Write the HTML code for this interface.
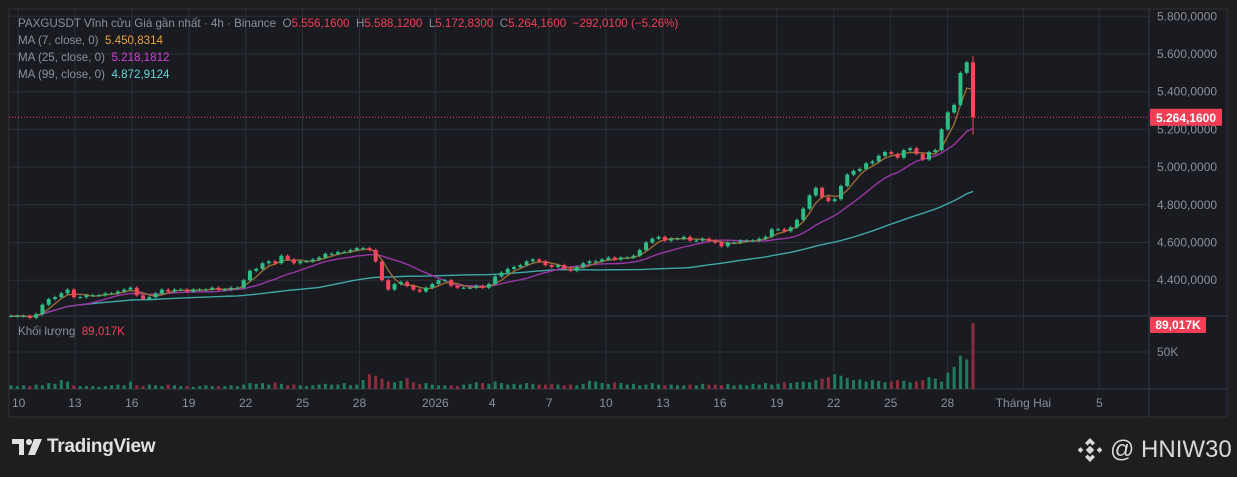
<!DOCTYPE html>
<html><head><meta charset="utf-8">
<style>
html,body{margin:0;padding:0;background:#1e1e1e;width:1237px;height:477px;overflow:hidden;font-family:"Liberation Sans",sans-serif}
#wrap{position:absolute;left:0;top:0;width:1237px;height:477px}
.hdr{position:absolute;left:18px;font-size:11.6px;color:#8b8f9a;white-space:nowrap}
</style></head><body>
<div id="wrap">
<svg id="chart" width="1237" height="477" style="position:absolute;left:0;top:0"></svg>
<div class="hdr" style="top:17px">PAXGUSDT Vĩnh cửu Giá gần nhất · 4h · Binance&nbsp; O<span style="color:#f23f55">5.556,1600</span>&nbsp; H<span style="color:#f23f55">5.588,1200</span>&nbsp; L<span style="color:#f23f55">5.172,8300</span>&nbsp; C<span style="color:#f23f55">5.264,1600</span>&nbsp; <span style="color:#f23f55">−292,0100 (−5.26%)</span></div>
<div class="hdr" style="top:34px">MA (7, close, 0)&nbsp; <span style="color:#e8a33a">5.450,8314</span></div>
<div class="hdr" style="top:51px">MA (25, close, 0)&nbsp; <span style="color:#d43fd8">5.218,1812</span></div>
<div class="hdr" style="top:68px">MA (99, close, 0)&nbsp; <span style="color:#5fd6da">4.872,9124</span></div>
<div class="hdr" style="top:325px">Khối lượng&nbsp; <span style="color:#f23f55">89,017K</span></div>
<div style="position:absolute;left:12px;top:437px;height:20px;display:flex;align-items:center">
<svg width="30" height="18" viewBox="0 0 30 18"><path d="M0 1h12v16H7V6H0z" fill="#e0e0e0"/><circle cx="17" cy="4" r="3" fill="#e0e0e0"/><path d="M22 1h8l-7 16h-7z" fill="#e0e0e0"/></svg>
<span style="margin-left:5px;color:#e0e0e0;font-size:19px;font-weight:bold;letter-spacing:-0.3px">TradingView</span></div>
<div style="position:absolute;left:1076px;top:436px;display:flex;align-items:center">
<svg width="28" height="28" viewBox="0 0 28 28"><g fill="#d8d8d8"><path d="M14 2l5 5-2.5 2.5L14 7l-2.5 2.5L9 7z"/><path d="M14 26l5-5-2.5-2.5L14 21l-2.5-2.5L9 21z"/><rect x="11" y="11" width="6" height="6" transform="rotate(45 14 14)"/><rect x="2.5" y="12" width="4" height="4" transform="rotate(45 4.5 14)"/><rect x="21.5" y="12" width="4" height="4" transform="rotate(45 23.5 14)"/></g></svg>
<span style="margin-left:6px;color:#d8d8d8;font-size:24px">@ HNIW30</span></div>
</div>
<script>
const closes = [4.21,
4.21,4.21,4.20, 4.22,4.27,4.30, 4.31,4.33,4.35, 4.31,4.31,4.32, 4.32,4.32,4.33,
4.33,4.34,4.35, 4.36,4.32,4.30, 4.31,4.33,4.35, 4.34,4.35,4.35, 4.34,4.35,4.35,
4.35,4.36,4.35, 4.35,4.36,4.36, 4.40,4.45,4.46, 4.49,4.50,4.49, 4.53,4.51,4.49,
4.50,4.50,4.51, 4.52,4.54,4.54, 4.55,4.55,4.56, 4.57,4.57,4.56, 4.50,4.40,4.35,
4.38,4.39,4.37, 4.35,4.34,4.36, 4.38,4.40,4.40, 4.37,4.36,4.36, 4.36,4.37,4.36,
4.38,4.42,4.44, 4.46,4.47,4.48, 4.50,4.51,4.50, 4.48,4.47,4.48, 4.46,4.45,4.47,
4.49,4.50,4.50, 4.51,4.52,4.51, 4.52,4.52,4.53, 4.56,4.60,4.62, 4.63,4.61,4.62,
4.62,4.63,4.61, 4.61,4.62,4.61, 4.60,4.58,4.60, 4.60,4.61,4.61, 4.61,4.62,4.63,
4.67,4.67,4.66, 4.68,4.72,4.78, 4.85,4.89,4.84, 4.82,4.83,4.90, 4.96,4.98,4.99,
5.02,5.03,5.06, 5.08,5.07,5.05, 5.09,5.10,5.07, 5.04,5.08,5.09, 5.20,5.29,5.33,
5.50,5.556,5.264];
const volumes = [5,
4,5,4, 6,5,8, 7,12,10, 5,4,4, 4,3,4, 5,6,5, 10,5,4, 6,5,4, 6,5,4, 4,3,4,
5,4,4, 4,5,4, 6,8,7, 8,6,9, 7,5,6, 5,4,5, 6,7,6, 6,8,5, 6,12,20, 18,14,10,
9,11,15, 9,7,8, 6,5,5, 5,4,6, 7,9,8, 7,10,8, 6,7,6, 8,7,6, 6,7,6, 5,6,5,
7,11,10, 8,7,9, 8,6,7, 5,6,8, 6,5,6, 5,5,6, 5,7,6, 6,5,7, 5,6,5, 7,6,8,
6,7,9, 8,9,10, 9,12,14, 16,20,18, 15,12,13, 10,12,11, 9,10,12, 11,9,10,
12,16,14, 10,22,30, 45,40,89.017];
const lastHigh = 5.5881, lastLow = 5.1728;
const priceTicks = [5.8,5.6,5.4,5.2,5.0,4.8,4.6,4.4];
const priceTickLabels = ["5.800,0000","5.600,0000","5.400,0000","5.200,0000","5.000,0000","4.800,0000","4.600,0000","4.400,0000"];
const dateTickDays = [0,3,6,9,12,15,18,22,25,28,31,34,37,40,43,46,49,53,57];
const dateTickLabels = ["10","13","16","19","22","25","28","2026","4","7","10","13","16","19","22","25","28","Tháng Hai","5"];
const lastPrice = 5.26416;
const lastPriceLabel = "5.264,1600";
const volTickValue = 50, volTickLabel = "50K", volLastLabel = "89,017K";

const NS="http://www.w3.org/2000/svg";
const svg=document.getElementById('chart');
const L=9,R=1227,T=9,B=417,AX=1149,PB=316,VB=389;
const yP=v=>54+(5.6-v)/0.2*37.7;
const xDay=d=>18+d*18.97;
const x0=11,x1=973;
const xI=i=>x0+i*(x1-x0)/(closes.length-1);
const yV=v=>VB-v*(37/50);
function el(tag,attrs,parent){const e=document.createElementNS(NS,tag);for(const k in attrs)e.setAttribute(k,attrs[k]);(parent||svg).appendChild(e);return e;}

const bg=el('rect',{x:L,y:T,width:R-L,height:B-T,fill:'#1a1b21',stroke:'#2b2b2e','stroke-width':1.5});


const grid=el('g',{stroke:'#2c2f38','stroke-width':1});


priceTicks.forEach(v=>{el('line',{x1:L,x2:AX,y1:yP(v),y2:yP(v)},grid);});
dateTickDays.forEach(d=>{el('line',{x1:xDay(d),x2:xDay(d),y1:T,y2:VB},grid);});
el('line',{x1:L,x2:AX,y1:yV(volTickValue),y2:yV(volTickValue)},grid);
el('line',{x1:L,x2:R,y1:PB,y2:PB,stroke:'#363a45'},grid);
el('line',{x1:L,x2:R,y1:VB,y2:VB,stroke:'#363a45'},grid);
el('line',{x1:AX,x2:AX,y1:T,y2:B,stroke:'#363a45'},grid);

const vg=el('g',{});


closes.forEach((c,i)=>{const o=i?closes[i-1]:c;const v=volumes[i]||0;
 const r=el('rect',{x:xI(i)-1.5,y:yV(v),width:3,height:VB-yV(v),fill:c>=o?'#1f7a5e':'#8c2d3d'},vg);
 
 });

function ma(n){return closes.map((c,i)=>{const s=closes.slice(Math.max(0,i-n+1),i+1);return s.reduce((a,b)=>a+b,0)/s.length;});}
[[50,'#3fa8a6'],[13,'#9b36a8'],[4,'#9c6a35']].forEach(([n,col])=>{
 const m=ma(n);const p=el('polyline',{points:m.map((v,i)=>xI(i)+','+yP(v)).join(' '),fill:'none',stroke:col,'stroke-width':1.4});
 
 });

const cg=el('g',{});


closes.forEach((c,i)=>{const o=i?closes[i-1]:c;const up=c>=o;const col=up?'#2ebd85':'#f6465d';
 const last=i===closes.length-1;
 const h=last?lastHigh:Math.max(o,c)+0.008, l=last?lastLow:Math.min(o,c)-0.008;
 const x=xI(i);
 const w=el('line',{x1:x,x2:x,y1:yP(h),y2:yP(l),stroke:col,'stroke-width':1},cg);
 
 
 const top=yP(Math.max(o,c)),bot=yP(Math.min(o,c));
 const b=el('rect',{x:x-2,y:top,width:4,height:Math.max(1,bot-top),fill:col},cg);
 
 });

const lp=el('line',{x1:L,x2:AX,y1:yP(lastPrice),y2:yP(lastPrice),stroke:'#f23f55','stroke-width':1,'stroke-dasharray':'1 2'});



priceTicks.forEach((v,i)=>{const t=el('text',{x:1157,y:yP(v)+4,fill:'#8b8f9a','font-size':12,'font-family':'Liberation Sans, sans-serif'});
 t.textContent=priceTickLabels[i];
 
 });
const pb=el('rect',{x:1150,y:yP(lastPrice)-8.5,width:72,height:17,fill:'#f23f55',rx:1});


const pt=el('text',{x:1186,y:yP(lastPrice)+4.5,fill:'#fff','font-size':12,'font-weight':'bold','text-anchor':'middle','font-family':'Liberation Sans, sans-serif'});
pt.textContent=lastPriceLabel;


const vb=el('rect',{x:1150,y:317,width:56,height:16,fill:'#f23f55',rx:1});


const vt=el('text',{x:1178,y:329,fill:'#fff','font-size':12,'font-weight':'bold','text-anchor':'middle','font-family':'Liberation Sans, sans-serif'});
vt.textContent=volLastLabel;


const v50=el('text',{x:1157,y:yV(volTickValue)+4,fill:'#8b8f9a','font-size':12,'font-family':'Liberation Sans, sans-serif'});
v50.textContent=volTickLabel;



dateTickDays.forEach((d,i)=>{const t=el('text',{x:xDay(d),y:407,fill:'#8b8f9a','font-size':12,'text-anchor':i===0?'start':'middle','font-family':'Liberation Sans, sans-serif'});
 if(i===0)t.setAttribute('x',12);
 t.textContent=dateTickLabels[i];
 
 });
</script>
</body></html>
